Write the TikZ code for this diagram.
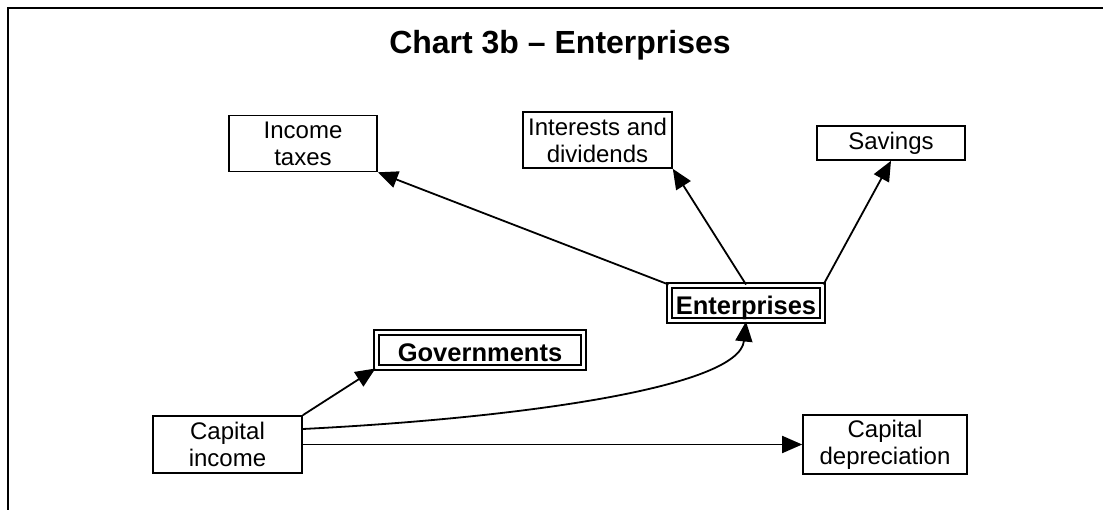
\documentclass[tikz,border=0pt]{standalone}
\usepackage{fontspec}
\setmainfont{Liberation Sans}
\usetikzlibrary{arrows.meta}

\begin{document}
\begin{tikzpicture}[x=1pt,y=-1pt,->,>={Triangle[length=20pt,width=17pt]},line width=1.8pt,
        box/.style={draw,rectangle,line width=1.6pt,inner sep=0pt,align=center,
          font=\fontsize{24}{27}\selectfont},
        sector/.style={draw,rectangle,double,line width=2pt,double distance=2.6pt,
          inner sep=0pt,text height=23.5pt,text depth=0pt,
          font=\fontsize{25.5}{30}\selectfont\bfseries}]

  \useasboundingbox (0,0) rectangle (1103,510);
  \draw[-,line width=2pt] (8,510) -- (8,8) -- (1103,8);

  \node[font=\fontsize{32}{36}\selectfont\bfseries] (title) at (560,45) {Chart 3b – Enterprises};

  \node[box,minimum width=148pt,minimum height=56pt] (taxes) at (303,143.5) {Income\\taxes};
  \node[box,minimum width=149pt,minimum height=56pt] (interest) at (597.5,140) {Interests and\\dividends};
  \node[box,minimum width=148pt,minimum height=34pt] (savings) at (891,143) {Savings};
  \node[sector,minimum width=153pt,minimum height=35pt] (ent) at (746,303) {Enterprises};
  \node[sector,minimum width=207pt,minimum height=35pt] (govt) at (480,350) {Governments};
  \node[box,minimum width=149pt,minimum height=57pt] (capinc) at (227.5,444.5) {Capital\\income};
  \node[box,minimum width=164pt,minimum height=59pt] (capdep) at (885,444.5) {Capital\\depreciation};

  \draw (ent.north west) -- (taxes.south east);
  \draw (ent.north) -- (interest.south east);
  \draw (ent.north east) -- (savings.south);
  \draw (capinc.north east) -- (govt.south west);
  \draw ([yshift=15.5pt]capinc.east) .. controls +(218,-11) and +(-7,66) .. (ent.south);
  \draw (capinc.east) -- (capdep.west);

\end{tikzpicture}
\end{document}
